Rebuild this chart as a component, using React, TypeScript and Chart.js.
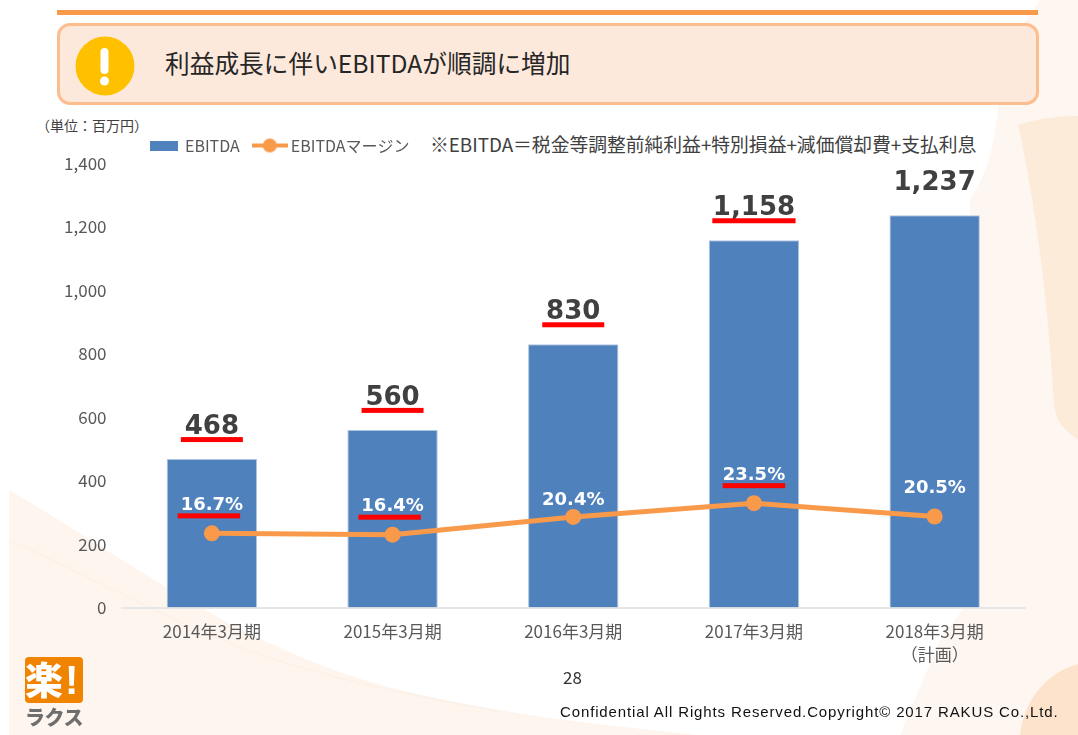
import React, { useEffect, useRef } from "react";
import { Chart, registerables } from "chart.js";

Chart.register(...registerables);

const categories: (string | string[])[] = ["2014年3月期", "2015年3月期", "2016年3月期", "2017年3月期", ["2018年3月期", "（計画）"]];
const ebitda = [468, 560, 830, 1158, 1237];
const margin = [16.7, 16.4, 20.4, 23.5, 20.5];
const ebitdaUnderlined = [true, true, true, true, false];
const marginUnderlined = [true, true, false, true, false];

const JP = '"Noto Sans CJK JP", "Noto Sans", sans-serif';
const LABEL_FONT = '"DejaVu Sans", sans-serif';
const BLUE = "#4F81BD";
const ORANGE = "#F99A4A";
const GREY = "#595959";
const RED = "#FF0000";

function marker(w: number, h: number, draw: (c: CanvasRenderingContext2D) => void) {
  const cv = document.createElement("canvas");
  cv.width = w;
  cv.height = h;
  draw(cv.getContext("2d") as CanvasRenderingContext2D);
  return cv;
}

const labelPlugin = {
  id: "valueLabels",
  afterDatasetsDraw(chart: any) {
    const ctx = chart.ctx as CanvasRenderingContext2D;
    const bars = chart.getDatasetMeta(0).data;
    const pts = chart.getDatasetMeta(1).data;
    ctx.save();
    ctx.textAlign = "center";
    ctx.textBaseline = "middle";
    ctx.font = `bold 26px ${LABEL_FONT}`;
    ebitda.forEach((v, i) => {
      const t = v.toLocaleString("en-US");
      const { x, y } = bars[i];
      ctx.fillStyle = "#404040";
      ctx.fillText(t, x, y - 32);
      if (ebitdaUnderlined[i]) {
        const w = Math.max(ctx.measureText(t).width + 1, 62);
        ctx.fillStyle = RED;
        ctx.fillRect(x - w / 2, y - 22, w, 5);
      }
    });
    ctx.font = `bold 18px ${LABEL_FONT}`;
    margin.forEach((v, i) => {
      const t = v.toFixed(1) + "%";
      const { x, y } = pts[i];
      const up = i === 2 ? 17 : 28;
      ctx.fillStyle = "#FFFFFF";
      ctx.fillText(t, x, y - up);
      if (marginUnderlined[i]) {
        const w = ctx.measureText(t).width;
        ctx.fillStyle = RED;
        ctx.fillRect(x - w / 2 - (i === 3 ? 0 : 3), y - 20, w, 5);
      }
    });
    ctx.restore();
  },
};

export default function App() {
  const ref = useRef<HTMLCanvasElement>(null);
  useEffect(() => {
    document.body.style.margin = "0";
    const barMarker = marker(28, 10, (c) => {
      c.fillStyle = BLUE;
      c.fillRect(0, 0, 28, 10);
    });
    const lineMarker = marker(36, 16, (c) => {
      c.fillStyle = ORANGE;
      c.fillRect(0, 6, 36, 4);
      c.beginPath();
      c.arc(18, 8, 7, 0, Math.PI * 2);
      c.fill();
    });
    const chart = new Chart(ref.current as HTMLCanvasElement, {
      data: {
        labels: categories as any,
        datasets: [
          {
            type: "bar",
            label: "EBITDA",
            data: ebitda,
            yAxisID: "y",
            backgroundColor: BLUE,
            borderColor: "#AFC4DE",
            borderWidth: 1,
            categoryPercentage: 1,
            barPercentage: 0.5,
            order: 2,
          },
          {
            type: "line",
            label: "EBITDAマージン",
            data: margin,
            yAxisID: "y1",
            borderColor: ORANGE,
            backgroundColor: ORANGE,
            borderWidth: 5,
            pointRadius: 8,
            pointBackgroundColor: ORANGE,
            pointBorderWidth: 0,
            tension: 0,
            order: 1,
          },
        ] as any,
      },
      options: {
        responsive: false,
        animation: false,
        layout: { padding: { top: 120.5, right: 53, left: 0, bottom: 0 } },
        plugins: {
          tooltip: { enabled: false },
          legend: {
            display: true,
            position: "top",
            align: "start",
            labels: {
              usePointStyle: true,
              pointStyleWidth: 26,
              padding: 17,
              color: GREY,
              font: { family: JP, size: 16 },
              generateLabels: () => [
                { text: "EBITDA", pointStyle: barMarker, fontColor: GREY, datasetIndex: 0, lineWidth: 0 },
                { text: "EBITDAマージン", pointStyle: lineMarker, fontColor: GREY, datasetIndex: 1, lineWidth: 0 },
              ],
            },
          } as any,
        },
        scales: {
          x: {
            grid: { display: false, drawTicks: false },
            border: { color: "#E6E6E6", width: 2 },
            ticks: { color: GREY, padding: 13, font: { family: JP, size: 17, lineHeight: 1.35 }, maxRotation: 0, autoSkip: false },
            afterFit: (s: any) => { s.height = 127.5; },
          },
          y: {
            min: 0,
            max: 1400,
            grid: { display: false, drawTicks: false },
            border: { display: false },
            ticks: { stepSize: 200, color: GREY, padding: 15, font: { family: JP, size: 17 }, callback: (v: any) => Number(v).toLocaleString("en-US") },
            afterFit: (s: any) => { s.width = 121.5; },
          },
          y1: { display: false, min: 0, max: 100 },
        },
      } as any,
      plugins: [
        labelPlugin,
        {
          id: "legendPlace",
          afterLayout(c: any) { c.legend.left = 134; },
        },
      ] as any,
    });
    return () => chart.destroy();
  }, []);

  const abs = (o: React.CSSProperties): React.CSSProperties => ({ position: "absolute", whiteSpace: "nowrap", lineHeight: 1, ...o });

  return (
    <div style={{ position: "relative", width: 1078, height: 735, overflow: "hidden", background: "#fff", fontFamily: JP }}>
      <svg width={1078} height={735} style={{ position: "absolute", left: 0, top: 0 }}>
        <path d="M9,490 C130,560 240,650 400,690 C500,714 600,725 700,735 L9,735 Z" fill="#FDF5EE" />
        <path d="M9,540 C100,580 200,640 310,670 C400,695 470,705 500,712" fill="none" stroke="#FCF0E6" strokeWidth={1} />
        <path d="M1000,60 L1040,0 L1078,0 L1078,735 L900,735 L940,640 L970,600 L970,200 C990,170 1000,130 1000,60 Z" fill="#FEF6F0" />
        <path d="M1018,125 C1040,118 1060,116 1078,116 L1078,440 L1068,432 C1060,425 1056,418 1054,405 C1048,300 1035,200 1018,125 Z" fill="#FDEBDA" />
        <path d="M1020,735 C1025,695 1050,672 1078,664 L1078,735 Z" fill="#FDE3CB" />
      </svg>

      <div style={{ position: "absolute", left: 57, top: 10, width: 981, height: 5, background: ORANGE }} />
      <div style={{ position: "absolute", left: 57, top: 23, width: 982, height: 82, boxSizing: "border-box", background: "#FDE9DB", border: "3px solid #FDBE8F", borderRadius: 13 }} />
      <svg width={60} height={60} style={{ position: "absolute", left: 75, top: 36 }}>
        <circle cx={30} cy={30} r={29.5} fill="#FFC000" />
        <rect x={25.5} y={12} width={8} height={26} rx={4} fill="#FFF" />
        <circle cx={29.5} cy={45} r={4.5} fill="#FFF" />
      </svg>
      <div style={abs({ left: 165, top: 50, fontSize: 24.7, color: "#262626" })}>利益成長に伴いEBITDAが順調に増加</div>
      <div style={abs({ left: 36, top: 118, fontSize: 14, color: "#404040" })}>（単位：百万円）</div>
      <div style={abs({ left: 430, top: 135, fontSize: 18.8, color: "#404040" })}>※EBITDA＝税金等調整前純利益+特別損益+減価償却費+支払利息</div>

      <canvas ref={ref} width={1078} height={735} style={{ position: "absolute", left: 0, top: 0, display: "block" }} />

      <div style={abs({ left: 563, top: 668, fontSize: 17, color: "#333" })}>28</div>
      <div style={abs({ left: 560, top: 704, fontSize: 15, letterSpacing: 0.87, fontFamily: '"Liberation Sans", sans-serif', color: "#111" })}>
        Confidential All Rights Reserved.Copyright© 2017 RAKUS Co.,Ltd.
      </div>

      <div style={{ position: "absolute", left: 25, top: 657, width: 58, height: 46, background: "#F08300", borderRadius: 4, overflow: "hidden" }}>
        <div style={abs({ left: 0, top: 2, fontSize: 38, fontWeight: 900, color: "#FFF" })}>楽</div>
        <div style={abs({ left: 40, top: 3, fontSize: 40, fontWeight: 900, color: "#FFF", fontFamily: '"Liberation Sans", sans-serif' })}>!</div>
      </div>
      <div style={abs({ left: 25, top: 707, fontSize: 20, fontWeight: 900, color: "#6E6E6E", letterSpacing: -0.5 })}>ラクス</div>
    </div>
  );
}
